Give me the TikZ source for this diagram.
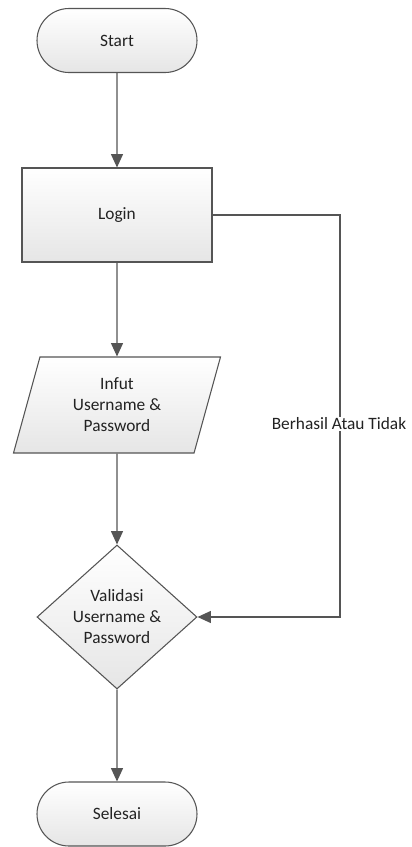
\documentclass[tikz,border=0pt]{standalone}
\usepackage{fontspec}
\setmainfont{Carlito}
\usetikzlibrary{shapes.geometric,shapes.misc,arrows.meta}
\definecolor{edge}{HTML}{555555}
\definecolor{ink}{HTML}{222222}
\begin{document}
\begin{tikzpicture}[x=0.75pt,y=-0.75pt,
  font=\fontsize{13}{15.75}\selectfont, text=ink,
  base/.style={draw=edge, line width=0.8pt, top color=white, bottom color=black!10, align=center, inner sep=0pt},
  term/.style={base, rounded rectangle, minimum width=120pt, minimum height=48pt},
  procbox/.style={base, rectangle, minimum width=142.5pt, minimum height=70.5pt},
  iobox/.style={base, trapezium, trapezium left angle=63.9, trapezium right angle=116.1, trapezium stretches body, minimum width=155.25pt, minimum height=72pt},
  decbox/.style={base, diamond, aspect=1.111, minimum width=120pt, minimum height=108pt},
  arr/.style={draw=edge, line width=0.8pt, -{Triangle[length=10pt,width=9pt]}},
  lbl/.style={fill=white, inner sep=1pt}
]
\useasboundingbox (0,0) rectangle (411,847);
\node[term] (start) at (117,40.5) {Start};
\node[procbox] (login) at (117,215) {Login};
\node[iobox] (input) at (117,405) {Infut\\Username \&\\Password};
\node[decbox] (valid) at (117,617) {Validasi\\Username \&\\Password};
\node[term] (end) at (117,814) {Selesai};
\coordinate (c1) at (340,215);
\coordinate (c2) at (340,617);
\draw[arr] (start) -- (login);
\draw[arr] (login) -- (input);
\draw[arr] (input) -- (valid);
\draw[arr] (valid) -- (end);
\draw[arr] (login.east) -- (c1) -- (c2) -- (valid.east);
\node[lbl] (res) at (339,424) {Berhasil Atau Tidak};
\end{tikzpicture}
\end{document}
